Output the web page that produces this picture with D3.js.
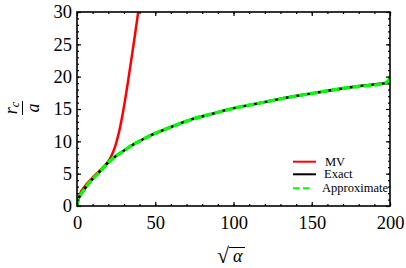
<!DOCTYPE html>
<html>
<head>
<meta charset="utf-8">
<script src="https://cdn.jsdelivr.net/npm/d3@7"></script>
<style>
  body { margin: 0; background: #fff; }
  svg { display: block; }
</style>
</head>
<body>
<svg id="chart" width="406" height="268"></svg>
<script>
// values
var exactX = [0, 0.5, 2, 4.7, 9.4, 13.6, 19, 24.3, 29.6, 35.3, 41.3, 47.5, 60.5, 73.3, 87.1, 99.9, 113.7, 123.3, 128.6, 147.8, 174.4, 197.9, 200];
var exactY = [0, 0.8, 1.6, 2.58, 4.02, 5.05, 6.49, 7.63, 8.5, 9.43, 10.2, 10.98, 12.26, 13.4, 14.3, 15.1, 15.77, 16.24, 16.5, 17.32, 18.35, 18.97, 19.0];
var approxX = [0, 0.5, 2, 4.7, 9.4, 13.6, 19, 24.3, 29.6, 35.3, 41.3, 47.5, 60.5, 73.3, 87.1, 99.9, 113.7, 123.3, 128.6, 147.8, 174.4, 196, 198.5, 200];
var approxY = [0, 0.8, 1.6, 2.58, 4.02, 5.05, 6.49, 7.63, 8.5, 9.43, 10.2, 10.98, 12.26, 13.4, 14.3, 15.1, 15.77, 16.24, 16.5, 17.32, 18.35, 18.95, 19.25, 19.75];
var mvX = [0, 2, 4.7, 9.4, 13.6, 17, 19, 21, 23, 25, 27, 29, 31, 33, 35, 37, 39, 41];
var mvY = [0, 1.9, 2.95, 4.25, 5.25, 6.05, 6.6, 7.3, 8.3, 9.7, 11.6, 14.0, 16.8, 19.9, 23.1, 26.4, 29.8, 33.2];

var xTicks = [0, 50, 100, 150, 200];
var yTicks = [0, 5, 10, 15, 20, 25, 30];
var legendNames = ["MV", "Exact", "Approximate"];

var serif = "'Liberation Serif', 'Times New Roman', 'DejaVu Serif', serif";

var svg = d3.select("#chart"),
    margin = {left: 77, top: 12, right: 16, bottom: 62},
    width = 406 - margin.left - margin.right,
    height = 268 - margin.top - margin.bottom;

var x = d3.scaleLinear().domain([0, 200]).range([0, width]);
var y = d3.scaleLinear().domain([0, 30]).range([height, 0]);

var g = svg.append("g")
    .attr("transform", "translate(" + margin.left + "," + margin.top + ")");

g.append("clipPath").attr("id", "clip")
  .append("rect").attr("width", width).attr("height", height);

function pts(xs, ys) {
  return xs.map(function(v, i) { return [v, ys[i]]; });
}

var line = d3.line()
    .x(function(d) { return x(d[0]); })
    .y(function(d) { return y(d[1]); })
    .curve(d3.curveMonotoneX);

var plot = g.append("g").attr("clip-path", "url(#clip)");

plot.append("path")
    .attr("d", line(pts(mvX, mvY)))
    .attr("fill", "none").attr("stroke", "#ff0000").attr("stroke-width", 2.5);

plot.append("path")
    .attr("d", line(pts(exactX, exactY)))
    .attr("fill", "none").attr("stroke", "#000").attr("stroke-width", 2.6);

plot.append("path")
    .attr("d", line(pts(approxX, approxY)))
    .attr("fill", "none").attr("stroke", "#00ff00").attr("stroke-width", 3.4)
    .attr("stroke-dasharray", "8.2,2.6");

// axes: ticks point inwards, minor ticks as a second axis
function styleAxis(sel) {
  sel.select(".domain").remove();
  sel.attr("font-family", null).attr("font-size", null);
  sel.selectAll("line").attr("stroke", "#000").attr("stroke-width", 1.2);
  sel.selectAll("text").attr("fill", "#000")
     .style("font-family", serif).style("font-size", "18.5px");
}

var xMinor = d3.range(0, 201, 10);
var yMinor = d3.range(0, 31, 1);

g.append("g").attr("transform", "translate(0," + height + ")")
  .call(d3.axisBottom(x).tickValues(xTicks).tickSize(-4).tickPadding(10).tickFormat(d3.format("d")))
  .call(styleAxis);
g.append("g").attr("transform", "translate(0," + height + ")")
  .call(d3.axisBottom(x).tickValues(xMinor).tickSize(-2).tickFormat(""))
  .call(styleAxis);
g.append("g")
  .call(d3.axisTop(x).tickValues(xTicks).tickSize(-4).tickFormat(""))
  .call(styleAxis);
g.append("g")
  .call(d3.axisTop(x).tickValues(xMinor).tickSize(-2).tickFormat(""))
  .call(styleAxis);

g.append("g")
  .call(d3.axisLeft(y).tickValues(yTicks).tickSize(-4).tickPadding(5).tickFormat(d3.format("d")))
  .call(styleAxis);
g.append("g")
  .call(d3.axisLeft(y).tickValues(yMinor).tickSize(-2).tickFormat(""))
  .call(styleAxis);
g.append("g").attr("transform", "translate(" + width + ",0)")
  .call(d3.axisRight(y).tickValues(yTicks).tickSize(-4).tickFormat(""))
  .call(styleAxis);
g.append("g").attr("transform", "translate(" + width + ",0)")
  .call(d3.axisRight(y).tickValues(yMinor).tickSize(-2).tickFormat(""))
  .call(styleAxis);

g.append("rect")
    .attr("width", width).attr("height", height)
    .attr("fill", "none").attr("stroke", "#000").attr("stroke-width", 1.6);

// y label: r_c / a, rotated
var yl = svg.append("g").attr("transform", "translate(0,108) rotate(-90)");
var num = yl.append("text").attr("x", 0).attr("y", 17).attr("text-anchor", "middle")
    .style("font-family", serif).style("font-size", "18px").style("font-style", "italic");
num.append("tspan").text("r");
num.append("tspan").attr("dy", 2).style("font-size", "12px").text("c");
yl.append("line").attr("x1", -7).attr("x2", 7).attr("y1", 22.5).attr("y2", 22.5)
  .attr("stroke", "#000").attr("stroke-width", 1);
yl.append("text").attr("x", 0).attr("y", 39).attr("text-anchor", "middle")
  .style("font-family", serif).style("font-size", "18px").style("font-style", "italic").text("a");

// x label: sqrt(alpha)
var xl = svg.append("g").attr("transform", "translate(231,262)");
xl.append("text").attr("x", -14).attr("y", 1)
  .style("font-family", serif).style("font-size", "22px").text("√");
xl.append("text").attr("x", 2).attr("y", 0)
  .style("font-family", serif).style("font-size", "18px").style("font-style", "italic").text("α");
xl.append("line").attr("x1", -2).attr("x2", 14).attr("y1", -14.5).attr("y2", -14.5)
  .attr("stroke", "#000").attr("stroke-width", 1);

// legend
var legColors = ["#ff0000", "#000", "#00ff00"];
var legY = [161.7, 174.3, 188.3];
var leg = svg.append("g");
legendNames.forEach(function(name, i) {
  leg.append("line")
    .attr("x1", 293).attr("x2", i === 2 ? 313 : 316)
    .attr("y1", legY[i]).attr("y2", legY[i])
    .attr("stroke", legColors[i]).attr("stroke-width", 2)
    .attr("stroke-dasharray", i === 2 ? "6.5,3.5" : null);
  leg.append("text")
    .attr("x", i === 0 ? 325 : (i === 1 ? 324 : 322))
    .attr("y", legY[i] + 4)
    .style("font-family", serif).style("font-size", "12.5px")
    .text(name);
});
</script>
</body>
</html>
